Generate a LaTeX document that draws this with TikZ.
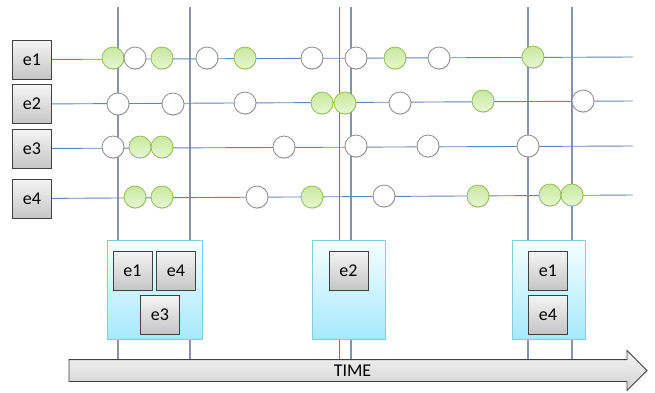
\documentclass[tikz,border=0pt]{standalone}
\usepackage{fontspec}
\setmainfont{Carlito}
\usetikzlibrary{shapes.arrows,shadows}

\definecolor{lineblue}{HTML}{5F86B8}
\definecolor{vgray}{HTML}{8594A8}
\definecolor{vblue}{HTML}{4F7FC0}
\definecolor{hitgreen}{HTML}{C8E89C}
\definecolor{hitgreenlt}{HTML}{E8F7D6}
\definecolor{hitborder}{HTML}{94BE58}
\definecolor{wincyan}{HTML}{A6E9FA}
\definecolor{winborder}{HTML}{86CCE0}

\begin{document}
\begin{tikzpicture}[x=1pt, y=-1pt,
  evt/.style = {draw=black!75, line width=0.9pt, top color=gray!8, bottom color=gray!45,
                minimum width=39pt, minimum height=39pt, inner sep=0pt,
                font=\fontsize{18}{20}\selectfont,
                drop shadow={shadow xshift=0.6pt, shadow yshift=-0.8pt, opacity=0.35}},
  win/.style = {draw=winborder, line width=0.8pt, top color=cyan!4, bottom color=wincyan,
                inner sep=0pt},
  hit/.style = {circle, draw=hitborder, line width=0.8pt, top color=hitgreen, bottom color=hitgreenlt,
                minimum size=22pt, inner sep=0pt,
                drop shadow={shadow xshift=0.5pt, shadow yshift=-0.8pt, opacity=0.3}},
  miss/.style = {circle, draw=gray!90, line width=0.8pt, fill=white,
                 minimum size=22pt, inner sep=0pt,
                 drop shadow={shadow xshift=0.5pt, shadow yshift=-0.8pt, opacity=0.3}},
  tline/.style = {draw=lineblue, line width=0.9pt},
  vline/.style = {draw=vgray, line width=1.3pt},
  timearrow/.style = {single arrow, draw=black!75, line width=0.8pt,
                      top color=gray!8, bottom color=gray!35,
                      single arrow head extend=9pt, minimum height=578pt,
                      inner ysep=5pt, text height=11pt, text depth=0pt,
                      font=\fontsize{18}{20}\selectfont}]
\useasboundingbox (0,0) rectangle (655,392);

% window borders
\coordinate (v1t) at (118,7);   \coordinate (v1b) at (118,360);
\coordinate (v2t) at (190,7);   \coordinate (v2b) at (190,360);
\coordinate (v3t) at (339,7);   \coordinate (v3b) at (339,360);
\coordinate (v4t) at (351,7);   \coordinate (v4b) at (351,360);
\coordinate (v5t) at (528,7);   \coordinate (v5b) at (528,360);
\coordinate (v6t) at (572,7);   \coordinate (v6b) at (572,360);
\draw[vline] (v1t) -- (v1b);
\draw[vline] (v2t) -- (v2b);
\draw[vline, draw=vblue, line width=1pt] (v3t) -- (v3b);
\draw[vline] (v4t) -- (v4b);
\draw[vline] (v5t) -- (v5b);
\draw[vline] (v6t) -- (v6b);

% event streams
\node[evt] (e1) at (32,59.5) {e1};
\node[evt] (e2) at (32,104) {e2};
\node[evt] (e3) at (32,148.5) {e3};
\node[evt] (e4) at (32,198.5) {e4};
\coordinate (end1) at (633,57);
\coordinate (end2) at (633,101);
\coordinate (end3) at (633,146);
\coordinate (end4) at (633,195);
\draw[tline] (e1) -- (end1);
\draw[tline] (e2) -- (end2);
\draw[tline] (e3) -- (end3);
\draw[tline] (e4) -- (end4);

% e1
\node[hit]  (a1) at (113,58) {};
\node[miss] (a2) at (135,58) {};
\node[hit]  (a3) at (162,58) {};
\node[miss] (a4) at (207,58) {};
\node[hit]  (a5) at (245,58) {};
\node[miss] (a6) at (312,58) {};
\node[miss] (a7) at (356,58) {};
\node[hit]  (a8) at (395,58) {};
\node[miss] (a9) at (439,58) {};
\node[hit]  (a10) at (533,57) {};
% e2
\node[miss] (b1) at (118,104) {};
\node[miss] (b2) at (173,104) {};
\node[miss] (b3) at (245,103) {};
\node[hit]  (b4) at (322,103) {};
\node[hit]  (b5) at (345,103) {};
\node[miss] (b6) at (400,103) {};
\node[hit]  (b7) at (483,101) {};
\node[miss] (b8) at (583,101) {};
% e3
\node[miss] (c1) at (113,147) {};
\node[hit]  (c2) at (140,147) {};
\node[hit]  (c3) at (162,147) {};
\node[miss] (c4) at (284,147) {};
\node[miss] (c5) at (356,146) {};
\node[miss] (c6) at (428,146) {};
\node[miss] (c7) at (528,146) {};
% e4
\node[hit]  (d1) at (135,197) {};
\node[hit]  (d2) at (162,197) {};
\node[miss] (d3) at (257,197) {};
\node[hit]  (d4) at (312,197) {};
\node[miss] (d5) at (384,196) {};
\node[hit]  (d6) at (478,196) {};
\node[hit]  (d7) at (550,195) {};
\node[hit]  (d8) at (572,195) {};

% windows
\node[win, minimum width=95pt, minimum height=99pt] (w1) at (154.5,289.5) {};
\node[win, minimum width=73pt, minimum height=99pt] (w2) at (348.5,289.5) {};
\node[win, minimum width=73pt, minimum height=99pt] (w3) at (548.5,289.5) {};
\node[evt] (w1e1) at (132.5,270.5) {e1};
\node[evt] (w1e4) at (176,270.5) {e4};
\node[evt] (w1e3) at (160,314.5) {e3};
\node[evt] (w2e2) at (348.5,270.5) {e2};
\node[evt] (w3e1) at (548,270.5) {e1};
\node[evt] (w3e4) at (548,314.5) {e4};

% time axis
\node[timearrow] (time) at (352.5,370.5) {TIME};
\end{tikzpicture}
\end{document}
